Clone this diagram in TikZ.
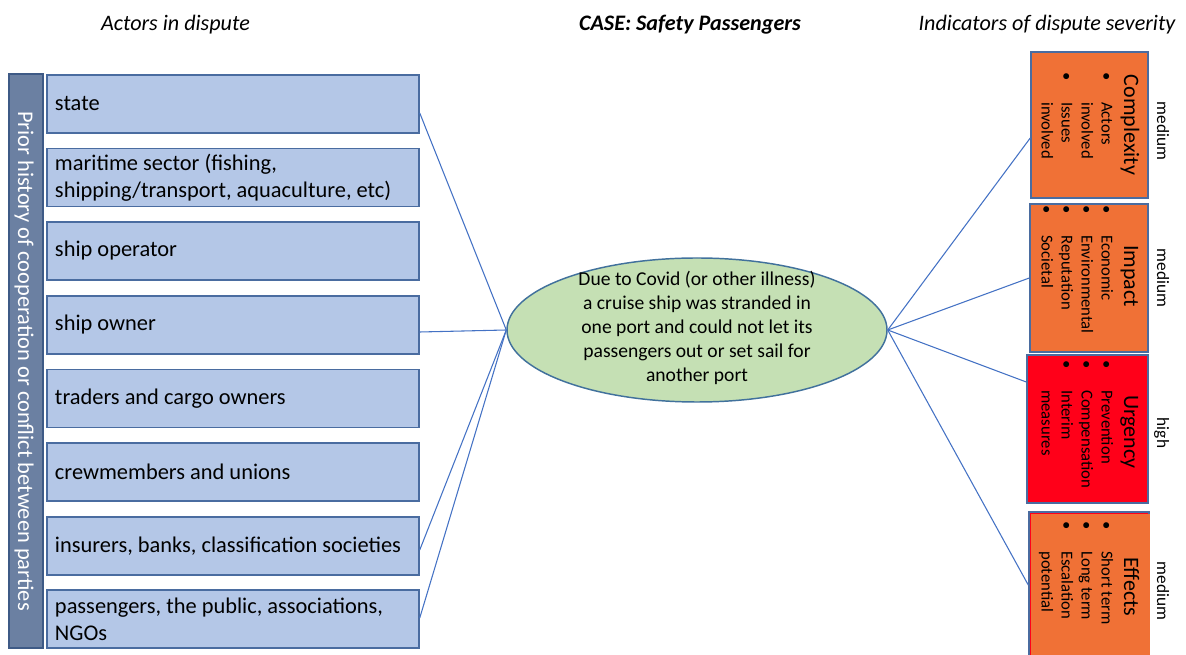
\documentclass[tikz,border=0pt]{standalone}
\usepackage{fontspec}
\setmainfont{Carlito}
\usetikzlibrary{shapes.geometric,calc}
\definecolor{actorfill}{HTML}{B4C7E7}
\definecolor{actorborder}{HTML}{4A6CA0}
\definecolor{barfill}{HTML}{6B80A2}
\definecolor{barborder}{HTML}{3E5A86}
\definecolor{linec}{HTML}{4472C4}
\definecolor{ellfill}{HTML}{C5E0B4}
\definecolor{ellborder}{HTML}{41719C}
\definecolor{orangec}{HTML}{F07136}
\definecolor{redc}{HTML}{FF0019}
\newcommand\bul{\makebox[22.5pt][l]{\textbullet}}
\newcommand\blst[1]{\begin{tabular}{@{}l@{}l@{}}#1\end{tabular}}
\begin{document}
\begin{tikzpicture}[x=0.75pt,y=-0.75pt,
  natsp/.style={execute at begin node={\spaceskip=0pt\xspaceskip=0pt\relax}},
  actor/.style={rectangle, draw=actorborder, fill=actorfill, line width=1.1pt,
    minimum height=58*0.75pt, text width=356*0.75pt, inner xsep=8*0.75pt,
    inner ysep=0pt, align=left, natsp, font=\fontsize{16.8}{20}\selectfont},
  ind/.style={rectangle, draw=actorborder, line width=1.1pt, inner sep=0pt},
  ttl/.style={rotate=-90, anchor=base, inner sep=0pt, font=\fontsize{16.5}{20}\selectfont},
  blist/.style={rotate=-90, anchor=north west, inner sep=0pt, font=\fontsize{12.5}{15}\selectfont},
  lab/.style={rotate=-90, anchor=base, inner sep=0pt, font=\fontsize{13}{15}\selectfont},
  hdr/.style={anchor=base, inner sep=0pt, font=\fontsize{16.6}{20}\selectfont},
  conn/.style={draw=linec, line width=0.8pt}]
\useasboundingbox (0,0) rectangle (1186,655);

% headers
\node[hdr] (h1) at (175.5,31) {\itshape Actors in dispute};
\node[hdr] (h2) at (690,31) {\bfseries\itshape CASE: Safety Passengers};
\node[hdr] (h3) at (1047,31) {\itshape Indicators of dispute severity};

% left bar
\node[rectangle, draw=barborder, fill=barfill, line width=1.1pt, minimum width=34*0.75pt,
  minimum height=574*0.75pt, inner sep=0pt] (bar) at (26,361) {};
\node[rotate=-90, anchor=base, inner sep=0pt, text=white, font=\fontsize{16.8}{20}\selectfont]
  (bartext) at (18,361) {Prior history of cooperation or conflict between parties};

% actors
\node[actor] (a1) at (233,104) {state};
\node[actor] (a2) at (233,177.5) {maritime sector (fishing,\\shipping/transport, aquaculture, etc)};
\node[actor] (a3) at (233,251) {ship operator};
\node[actor] (a4) at (233,325) {ship owner};
\node[actor] (a5) at (233,398.5) {traders and cargo owners};
\node[actor] (a6) at (233,472) {crewmembers and unions};
\node[actor] (a7) at (233,546) {insurers, banks, classification societies};
\node[actor] (a8) at (233,619) {passengers, the public, associations,\\NGOs};

% case ellipse
\node[ellipse, draw=ellborder, fill=ellfill, line width=1.1pt, minimum width=380*0.75pt,
  minimum height=144*0.75pt, inner sep=0pt] (case) at (697,330) {};
\node[align=center, natsp, inner sep=0pt, font=\fontsize{14.7}{18}\selectfont] (casetext) at (697,328)
  {Due to Covid (or other illness)\\a cruise ship was stranded in\\one port and could not let its\\passengers out or set sail for\\another port};

% indicator boxes
\node[ind, fill=orangec, minimum width=117*0.75pt, minimum height=146*0.75pt] (cpx) at (1089.5,125) {};
\node[ind, fill=orangec, minimum width=118*0.75pt, minimum height=148*0.75pt] (imp) at (1089,278) {};
\node[ind, fill=redc, minimum width=121*0.75pt, minimum height=148*0.75pt] (urg) at (1087.5,429) {};
\node[ind, fill=redc, minimum width=120*0.75pt, minimum height=146*0.75pt] (effback) at (1089,585) {};
\node[rectangle, fill=orangec, minimum width=119*0.75pt, minimum height=146*0.75pt, inner sep=0pt] (eff) at (1090.5,587) {};

% titles
\node[ttl] (cpxt) at (1124,125) {Complexity};
\node[ttl] (impt) at (1124,276) {Impact};
\node[ttl] (urgt) at (1124,432) {Urgency};
\node[ttl] (efft) at (1124,587) {Effects};

% bullet lists
\node[blist] (cpxl) at (1116,72) {\blst{\bul & Actors\\ & involved\\ \bul & Issues\\ & involved}};
\node[blist] (impl) at (1116,205) {\blst{\bul & Economic\\ \bul & Environmental\\ \bul & Reputation\\ \bul & Societal}};
\node[blist] (urgl) at (1116,360) {\blst{\bul & Prevention\\ \bul & Compensation\\ \bul & Interim\\ & measures}};
\node[blist] (effl) at (1116,521) {\blst{\bul & Short term\\ \bul & Long term\\ \bul & Escalation\\ & potential}};

% severity labels
\node[lab] (cpxm) at (1157,131) {medium};
\node[lab] (impm) at (1157,278) {medium};
\node[lab] (urgm) at (1157,433) {high};
\node[lab] (effm) at (1157,591) {medium};

% connectors
\draw[conn] (case.west) -- ($(a1.east)+(0,9)$);
\draw[conn] (case.west) -- ($(a4.east)+(0,7)$);
\draw[conn] (case.west) -- ($(a7.east)+(0,4)$);
\draw[conn] (case.west) -- ($(a8.east)+(0,-1)$);
\draw[conn] (case.east) -- ($(cpx.west)+(0,13)$);
\draw[conn] (case.east) -- (imp.west);
\draw[conn] (case.east) -- ($(urg.west)+(0,-47)$);
\draw[conn] (case.east) -- (effback.west);
\end{tikzpicture}
\end{document}
